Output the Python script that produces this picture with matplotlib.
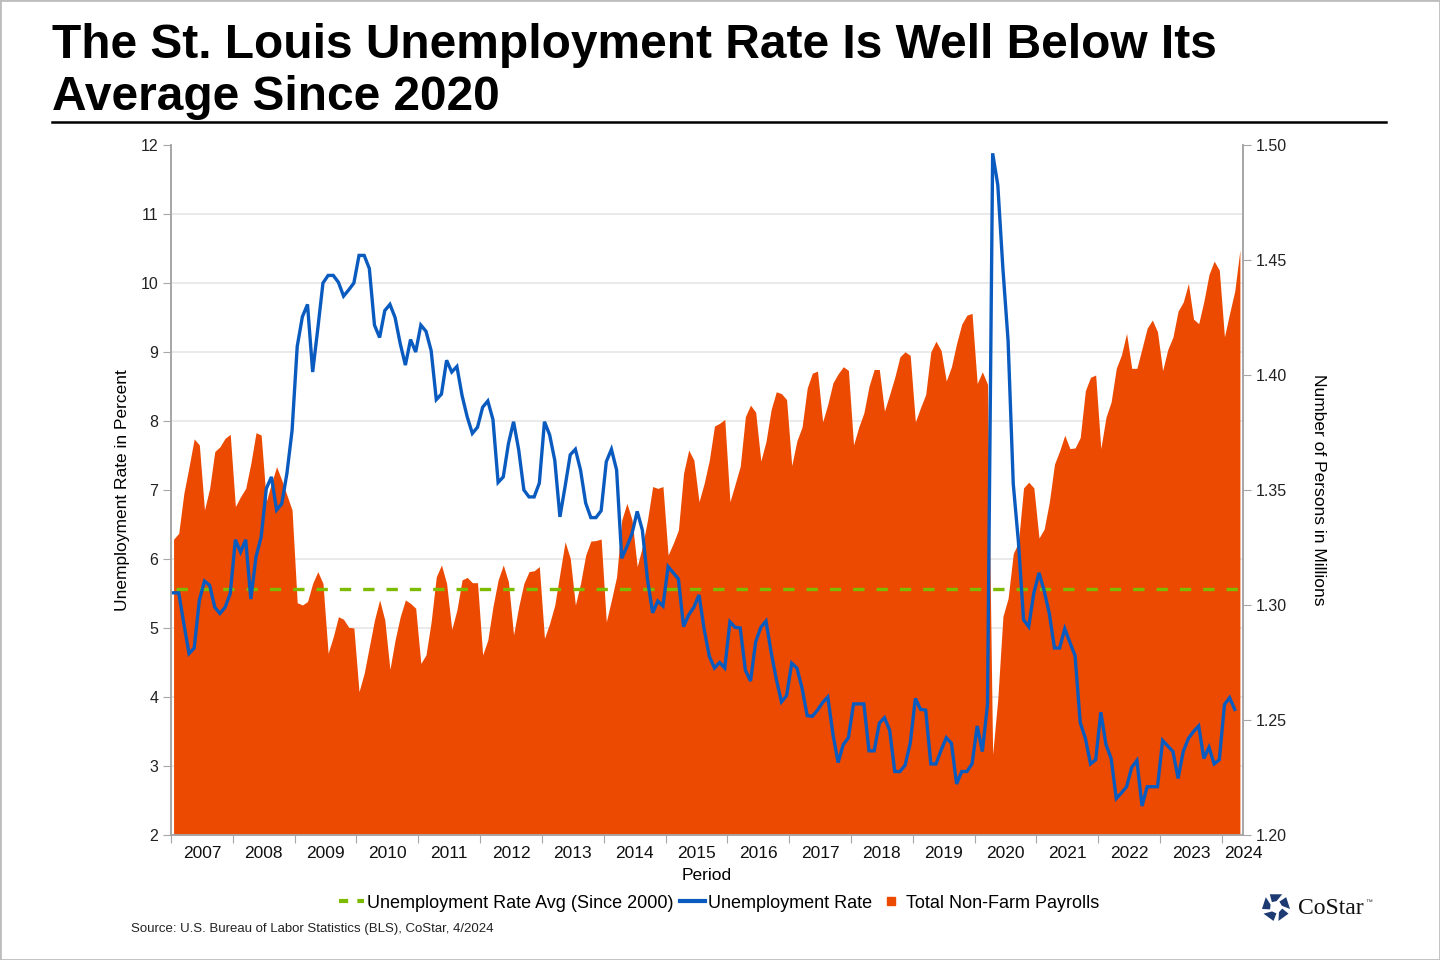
import numpy as np
import matplotlib
matplotlib.use("Agg")
import matplotlib.pyplot as plt
from matplotlib.lines import Line2D
from matplotlib.patches import Polygon, Rectangle

plt.rcParams['font.family'] = ['Liberation Sans', 'DejaVu Sans']

# monthly data, Jan 2007 onward
unemp_rate = [
    5.51, 5.51, 5.06, 4.63, 4.71, 5.40, 5.68, 5.62, 5.30, 5.21, 5.30, 5.50,   # 2007
    6.28, 6.10, 6.28, 5.42, 6.03, 6.32, 7.02, 7.19, 6.71, 6.80, 7.24, 7.86,   # 2008
    9.08, 9.51, 9.69, 8.71, 9.34, 10.0, 10.11, 10.11, 10.01, 9.81, 9.90, 10.0,  # 2009
    10.40, 10.40, 10.21, 9.39, 9.21, 9.60, 9.69, 9.50, 9.12, 8.81, 9.18, 9.00,  # 2010
    9.39, 9.30, 9.02, 8.31, 8.39, 8.88, 8.71, 8.79, 8.37, 8.06, 7.82, 7.91,   # 2011
    8.20, 8.29, 8.02, 7.11, 7.19, 7.67, 7.99, 7.58, 7.00, 6.90, 6.90, 7.10,   # 2012
    7.99, 7.80, 7.43, 6.61, 7.05, 7.51, 7.59, 7.29, 6.81, 6.60, 6.60, 6.70,   # 2013
    7.41, 7.59, 7.29, 6.01, 6.18, 6.37, 6.69, 6.42, 5.70, 5.22, 5.39, 5.32,   # 2014
    5.89, 5.80, 5.71, 5.02, 5.19, 5.30, 5.48, 4.98, 4.59, 4.42, 4.50, 4.42,   # 2015
    5.09, 5.01, 5.00, 4.39, 4.23, 4.80, 5.01, 5.10, 4.65, 4.26, 3.93, 4.02,   # 2016
    4.49, 4.42, 4.13, 3.73, 3.72, 3.81, 3.92, 4.00, 3.46, 3.05, 3.31, 3.41,   # 2017
    3.90, 3.90, 3.90, 3.22, 3.22, 3.62, 3.70, 3.52, 2.92, 2.92, 3.01, 3.33,   # 2018
    3.98, 3.82, 3.81, 3.03, 3.03, 3.23, 3.41, 3.33, 2.74, 2.92, 2.92, 3.03,   # 2019
    3.58, 3.21, 3.89, 11.88, 11.42, 10.20, 9.16, 7.09, 6.25, 5.12, 5.02, 5.51,  # 2020
    5.80, 5.54, 5.21, 4.71, 4.71, 4.99, 4.79, 4.60, 3.63, 3.40, 3.03, 3.09,   # 2021
    3.78, 3.31, 3.11, 2.53, 2.61, 2.70, 2.98, 3.08, 2.42, 2.70, 2.70, 2.70,   # 2022
    3.37, 3.29, 3.21, 2.82, 3.21, 3.40, 3.50, 3.58, 3.11, 3.27, 3.03, 3.09,   # 2023
    3.89, 3.99, 3.82,                                                          # 2024
]

payrolls = [
    1.3286, 1.3312, 1.3486, 1.3601, 1.3722, 1.3696, 1.3413, 1.3507, 1.3667, 1.3688, 1.3725, 1.3742,  # 2007
    1.3428, 1.3471, 1.3507, 1.3616, 1.3749, 1.3739, 1.3450, 1.3530, 1.3601, 1.3543, 1.3478, 1.3413,  # 2008
    1.3010, 1.3000, 1.3015, 1.3094, 1.3145, 1.3094, 1.2790, 1.2862, 1.2949, 1.2938, 1.2903, 1.2900,  # 2009
    1.2623, 1.2703, 1.2819, 1.2935, 1.3022, 1.2935, 1.2720, 1.2848, 1.2949, 1.3022, 1.3007, 1.2986,  # 2010
    1.2746, 1.2783, 1.2927, 1.3123, 1.3174, 1.3094, 1.2894, 1.2978, 1.3109, 1.3120, 1.3097, 1.3097,  # 2011
    1.2783, 1.2848, 1.2993, 1.3109, 1.3174, 1.3101, 1.2870, 1.2993, 1.3094, 1.3145, 1.3149, 1.3167,  # 2012
    1.2855, 1.2920, 1.3000, 1.3138, 1.3275, 1.3203, 1.3000, 1.3094, 1.3217, 1.3278, 1.3280, 1.3287,  # 2013
    1.2927, 1.3022, 1.3123, 1.3370, 1.3442, 1.3370, 1.3167, 1.3254, 1.3370, 1.3515, 1.3507, 1.3515,  # 2014
    1.3217, 1.3268, 1.3326, 1.3573, 1.3674, 1.3630, 1.3449, 1.3529, 1.3630, 1.3778, 1.3790, 1.3807,  # 2015
    1.3449, 1.3525, 1.3603, 1.3819, 1.3869, 1.3838, 1.3626, 1.3711, 1.3850, 1.3927, 1.3919, 1.3893,  # 2016
    1.3606, 1.3714, 1.3773, 1.3943, 1.4008, 1.4017, 1.3796, 1.3873, 1.3966, 1.4005, 1.4036, 1.4020,  # 2017
    1.3696, 1.3773, 1.3835, 1.3951, 1.4024, 1.4024, 1.3843, 1.3915, 1.3990, 1.4079, 1.4101, 1.4085,  # 2018
    1.3796, 1.3858, 1.3915, 1.4101, 1.4147, 1.4106, 1.3974, 1.4036, 1.4137, 1.4221, 1.4260, 1.4268,  # 2019
    1.3963, 1.4014, 1.3960, 1.2350, 1.2592, 1.2951, 1.3029, 1.3223, 1.3272, 1.3509, 1.3534, 1.3509,  # 2020
    1.3291, 1.3330, 1.3447, 1.3612, 1.3670, 1.3738, 1.3680, 1.3683, 1.3728, 1.3932, 1.3990, 1.4000,  # 2021
    1.3680, 1.3816, 1.3883, 1.4029, 1.4087, 1.4181, 1.4029, 1.4029, 1.4116, 1.4204, 1.4239, 1.4188,  # 2022
    1.4019, 1.4111, 1.4165, 1.4278, 1.4317, 1.4398, 1.4243, 1.4223, 1.4320, 1.4437, 1.4495, 1.4456,  # 2023
    1.4166, 1.4268, 1.4365, 1.4543,                                                                  # 2024
]

unemp_avg = 5.57
years = list(range(2007, 2025))

rate_ticks = list(range(2, 13))
payroll_ticks = [1.20, 1.25, 1.30, 1.35, 1.40, 1.45, 1.50]

ORANGE = '#ec4a00'
BLUE = '#0a5bbf'
GREEN = '#7dbb00'
AXIS = '#a6a6a6'

fig = plt.figure(figsize=(14.4, 9.6), dpi=100)
fig.patches.append(Rectangle((0, 0), 1, 1, transform=fig.transFigure, fill=False,
                             edgecolor='#bdbdbd', linewidth=2))

ax = fig.add_axes([171/1440, 1 - 835/960, (1243-171)/1440, (835-145)/960])
ax2 = ax.twinx()

n_months = len(payrolls)
xp = np.arange(n_months)
xu = np.arange(len(unemp_rate))

# payroll area (bottom axes, right-side scale)
ax.fill_between(xp, payrolls, 1.20, color=ORANGE, linewidth=0, zorder=2)
ax.set_ylim(1.20, 1.50)
ax.set_xlim(-0.5, n_months - 0.5)
ax.yaxis.tick_right()
ax.yaxis.set_label_position('right')
ax.set_yticks(payroll_ticks)
ax.set_yticklabels(['%.2f' % v for v in payroll_ticks])
# gridlines follow the rate ticks (11 evenly spaced lines)
ax.set_yticks(np.linspace(1.20, 1.50, len(rate_ticks)), minor=True)
ax.grid(True, which='minor', axis='y', color='#e6e6e6', linewidth=1.2, zorder=0)
ax.set_axisbelow(True)
ax.tick_params(axis='y', which='minor', length=0)
ax.tick_params(axis='y', which='major', direction='out', length=6, color=AXIS,
               labelsize=11.5, pad=3, labelcolor='#222222')
ax.set_ylabel('Number of Persons in Millions', rotation=270, labelpad=28, fontsize=12.5)

# unemployment (top axes, left scale)
ax2.plot(xu, unemp_rate, color=BLUE, linewidth=2.4, solid_joinstyle='miter', zorder=3)
ax2.axhline(unemp_avg, xmin=0.005, xmax=0.995, color=GREEN, linewidth=2.4,
            dashes=(3.4, 3.6), zorder=2)
ax2.set_ylim(2, 12)
ax2.yaxis.tick_left()
ax2.yaxis.set_label_position('left')
ax2.set_yticks(rate_ticks)
ax2.tick_params(axis='y', direction='out', length=6, color=AXIS, labelsize=11.5,
                pad=3, labelcolor='#222222')
ax2.set_ylabel('Unemployment Rate in Percent', labelpad=8, fontsize=12.5)

# x axis: ticks at year boundaries, labels centred on the years
bounds = [-0.5 + 12 * i for i in range(len(years))]
ax.set_xticks(bounds)
ax.set_xticklabels([])
label_pos = [5.5 + 12 * i for i in range(len(years) - 1)] + [n_months - 0.4]
ax.set_xticks(label_pos, minor=True)
ax.set_xticklabels([str(y) for y in years], minor=True)
ax.tick_params(axis='x', which='major', direction='out', length=6, color=AXIS)
ax.tick_params(axis='x', which='minor', length=0, labelsize=12.5, pad=8, labelcolor='#111111')
ax.set_xlabel('Period', fontsize=12.5, labelpad=5)

for a in (ax, ax2):
    a.spines['top'].set_visible(False)
    for s in ('left', 'right', 'bottom'):
        a.spines[s].set_color(AXIS)
        a.spines[s].set_linewidth(1.2)

# legend
handles = [
    Line2D([], [], color=GREEN, linewidth=3, dashes=(2.2, 2.2)),
    Line2D([], [], color=BLUE, linewidth=3),
    Line2D([], [], color=ORANGE, marker='s', markersize=6, linestyle='none'),
]
labels = ['Unemployment Rate Avg (Since 2000)', 'Unemployment Rate', 'Total Non-Farm Payrolls']
fig.legend(handles, labels, loc='center', bbox_to_anchor=(719/1440, 1 - 903/960), ncol=3,
           frameon=False, fontsize=13, handlelength=1.4, handletextpad=0.15,
           columnspacing=0.35, borderpad=0)

# title block
fig.text(52/1440, 1 - 46/960, 'The St. Louis Unemployment Rate Is Well Below Its',
         fontsize=34.5, fontweight='bold', va='center', ha='left')
fig.text(52/1440, 1 - 97/960, 'Average Since 2020',
         fontsize=34.5, fontweight='bold', va='center', ha='left')
fig.add_artist(Line2D([52/1440, 1386/1440], [1 - 122/960, 1 - 122/960],
                      transform=fig.transFigure, color='black', linewidth=1.8))

fig.text(131/1440, 1 - 929/960, 'Source: U.S. Bureau of Labor Statistics (BLS), CoStar, 4/2024',
         fontsize=9.5, va='center', ha='left', color='#222222')

# CoStar logo
lax = fig.add_axes([1258/1440, 1 - 924/960, 36/1440, 34/960])
lax.set_xlim(-1.2, 1.2)
lax.set_ylim(-1.2, 1.2)
lax.set_aspect('equal')
lax.axis('off')
NAVY = '#1d3a72'
for k in range(5):
    a0 = np.deg2rad(90 + 72 * k)
    pts = []
    for ang, r in [(-26, 1.0), (26, 1.0), (40, 0.45), (-6, 0.42)]:
        t = a0 + np.deg2rad(ang)
        pts.append((r * np.cos(t), r * np.sin(t)))
    lax.add_patch(Polygon(pts, closed=True, color=NAVY, linewidth=0))
fig.text(1298/1440, 1 - 908/960, 'CoStar', fontsize=17, va='center', ha='left',
         family=['Liberation Serif', 'DejaVu Serif'], color='#111111')
fig.text(1365/1440, 1 - 902/960, '\u2122', fontsize=5, va='center', ha='left', color='#333333')

fig.savefig('out.png', dpi=100)
